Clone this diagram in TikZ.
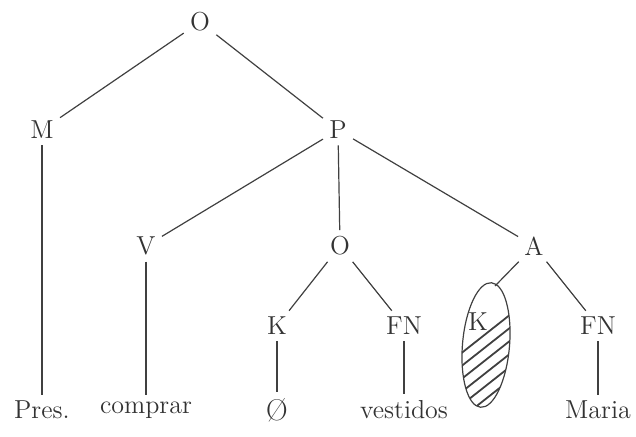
\documentclass[tikz,border=0pt]{standalone}
\usepackage{tikz}
\usetikzlibrary{calc}

\begin{document}
\begin{tikzpicture}[x=0.5pt, y=-0.5pt,
		lbl/.style={font=\fontsize{13}{15}\selectfont, text=black!80, inner sep=3pt},
		edge/.style={draw=black!75, line width=0.6pt},
		hatch/.style={draw=black!75, line width=0.9pt}]
	\useasboundingbox (0,0) rectangle (636,437);
	
	% --- tree nodes ---
	\node[lbl] (O0) at (200,22) {O};
	\node[lbl] (M) at (42,130) {M};
	\node[lbl] (P) at (338,130) {P};
	\node[lbl] (V) at (146,246) {V};
	\node[lbl] (O1) at (340,246) {O};
	\node[lbl] (A) at (534,246) {A};
	\node[lbl] (K1) at (277,326) {K};
	\node[lbl] (FN1) at (404,326) {FN};
	\node[lbl] (K2) at (478,322) {K};
	\node[lbl] (FN2) at (598,326) {FN};
	
	% --- leaves ---
	\node[lbl] (pres) at (42,410) {Pres.};
	\node[lbl] (comp) at (146,410) {comprar};
	\node[lbl] (zero) at (277,410) {\fontsize{15}{15}\selectfont\O};
	\node[lbl] (vest) at (404,410) {vestidos};
	\node[lbl] (maria) at (598,410) {Maria};
	
	% --- K in ellipse, lower part hatched ---
	\coordinate (ktop) at (495,286);
	\begin{scope}
		\clip[rotate around={-5:(486,345)}] (486,345) ellipse (23.5 and 62.5);
		\foreach \s in {0,...,7}
			\draw[hatch] ($(440,370)+(0,\s*13)$) -- ++(90,-71);
	\end{scope}
	\draw[edge, rotate around={-5:(486,345)}] (486,345) ellipse (23.5 and 62.5);
	
	% --- branches ---
	\draw[edge] (O0) -- (M);
	\draw[edge] (O0) -- (P);
	\draw[edge] (M) -- (pres);
	\draw[edge] (P) -- (V);
	\draw[edge] (P) -- (O1);
	\draw[edge] (P) -- (A);
	\draw[edge] (V) -- (comp);
	\draw[edge] (O1) -- (K1);
	\draw[edge] (O1) -- (FN1);
	\draw[edge] (A) -- (ktop);
	\draw[edge] (A) -- (FN2);
	\draw[edge] (K1) -- (zero);
	\draw[edge] (FN1) -- (vest);
	\draw[edge] (FN2) -- (maria);
\end{tikzpicture}
\end{document}
